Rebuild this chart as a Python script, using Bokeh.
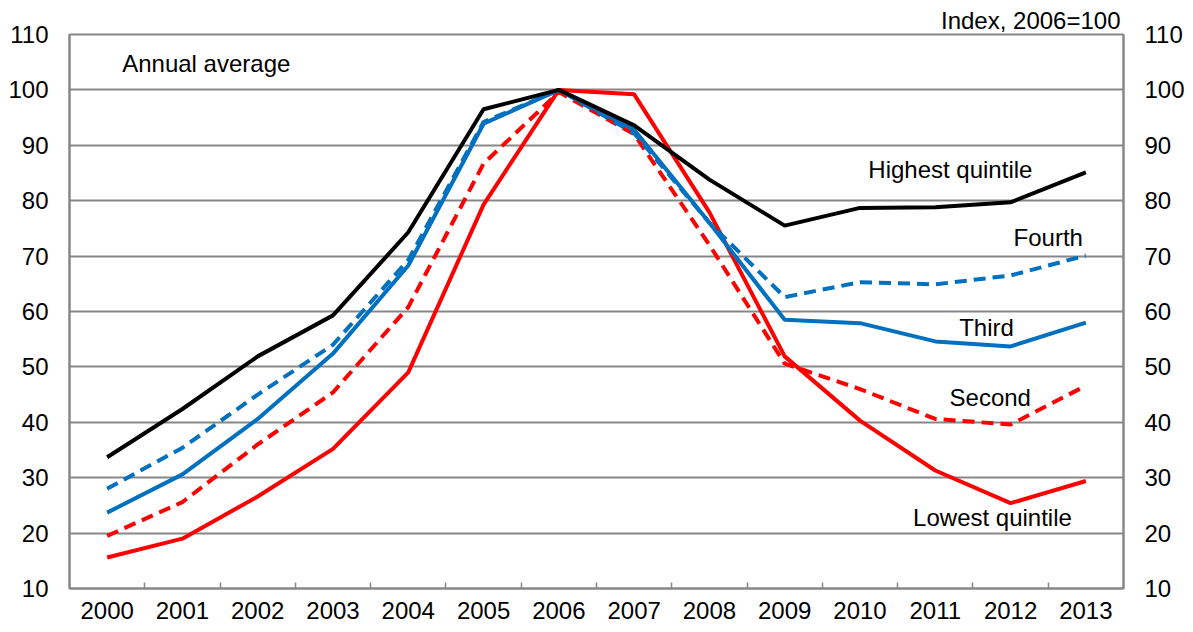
from bokeh.plotting import figure
from bokeh.models import LinearAxis, FixedTicker, Label, Range1d, ColumnDataSource
from bokeh.embed import file_html
from bokeh.resources import INLINE

years = ["2000", "2001", "2002", "2003", "2004", "2005", "2006",
         "2007", "2008", "2009", "2010", "2011", "2012", "2013"]
highest = [33.7, 42.4, 51.9, 59.3, 74.3, 96.5, 100, 93.6, 83.8, 75.5, 78.7, 78.8, 79.7, 85.1]
fourth = [28.0, 35.4, 45.0, 54.0, 69.3, 94.2, 100, 92.2, 76.0, 62.6, 65.3, 64.9, 66.5, 70.1]
third = [23.7, 30.6, 40.6, 52.4, 68.3, 93.9, 100, 92.8, 76.0, 58.5, 57.9, 54.6, 53.7, 58.0]
second = [19.5, 25.6, 36.0, 45.4, 60.8, 86.7, 99.6, 92.0, 72.0, 50.6, 46.0, 40.6, 39.6, 46.6]
lowest = [15.6, 19.0, 26.6, 35.2, 49.0, 79.3, 100, 99.2, 77.9, 51.9, 40.3, 31.3, 25.4, 29.4]
y_ticks = [10, 20, 30, 40, 50, 60, 70, 80, 90, 100, 110]

FONT = "Liberation Sans"
FS = "24px"
GREY = "#878787"
BLUE = "#0070C0"
RED = "#FF0000"

idx = list(range(len(years)))
src = ColumnDataSource(dict(x=idx, highest=highest, fourth=fourth, third=third,
                            second=second, lowest=lowest))

p = figure(width=1188, height=630, output_backend="svg", toolbar_location=None,
           x_range=Range1d(-0.5, len(years) - 0.5), y_range=Range1d(10, 110),
           min_border_left=69, min_border_right=65, min_border_top=34, min_border_bottom=42)
p.outline_line_color = GREY
p.outline_line_width = 2
p.background_fill_color = "white"
p.border_fill_color = "white"

p.title.text = "Index, 2006=100"
p.title.align = "right"
p.title.text_font = FONT
p.title.text_font_size = FS
p.title.text_font_style = "normal"
p.title.text_color = "black"
p.title.standoff = 2
p.title.offset = 3

# x axis (bottom)
xa = p.xaxis[0]
xa.ticker = FixedTicker(ticks=idx, minor_ticks=[i + 0.5 for i in idx[:-1]])
xa.major_label_overrides = {i: y for i, y in zip(idx, years)}
xa.major_tick_line_color = None
xa.major_tick_in = 0
xa.major_tick_out = 0
xa.minor_tick_in = 6
xa.minor_tick_out = 0
xa.minor_tick_line_color = GREY
xa.minor_tick_line_width = 1.5
xa.axis_line_color = GREY
xa.axis_line_width = 2
xa.major_label_text_font = FONT
xa.major_label_text_font_size = FS
xa.major_label_text_color = "black"
xa.major_label_standoff = 13

# y axes
ya = p.yaxis[0]
ya.ticker = FixedTicker(ticks=y_ticks)
yr = LinearAxis(ticker=FixedTicker(ticks=y_ticks))
p.add_layout(yr, "right")
for ax in (ya, yr):
    ax.major_tick_line_color = None
    ax.minor_tick_line_color = None
    ax.major_tick_in = 0
    ax.major_tick_out = 0
    ax.minor_tick_in = 0
    ax.minor_tick_out = 0
    ax.axis_line_color = GREY
    ax.axis_line_width = 2
    ax.major_label_text_font = FONT
    ax.major_label_text_font_size = FS
    ax.major_label_text_color = "black"
    ax.major_label_standoff = 21

p.xgrid.grid_line_color = None
p.ygrid.ticker = FixedTicker(ticks=y_ticks)
p.ygrid.grid_line_color = GREY
p.ygrid.grid_line_width = 2

LW = 4
p.line("x", "lowest", source=src, line_color=RED, line_width=LW)
p.line("x", "second", source=src, line_color=RED, line_width=LW, line_dash="12 7")
p.line("x", "third", source=src, line_color=BLUE, line_width=LW)
p.line("x", "fourth", source=src, line_color=BLUE, line_width=LW, line_dash="12 7")
p.line("x", "highest", source=src, line_color="black", line_width=LW)

def lab(x, y, text, align="center"):
    p.add_layout(Label(x=x, y=y, text=text, text_font=FONT, text_font_size=FS,
                       text_color="black", text_align=align, text_baseline="middle"))

lab(0.2, 104.8, "Annual average", "left")
lab(11.2, 85.6, "Highest quintile")
lab(12.5, 73.4, "Fourth")
lab(11.68, 57.1, "Third")
lab(11.73, 44.5, "Second")
lab(11.76, 22.8, "Lowest quintile")

open("out.html", "w").write(file_html(p, INLINE))
